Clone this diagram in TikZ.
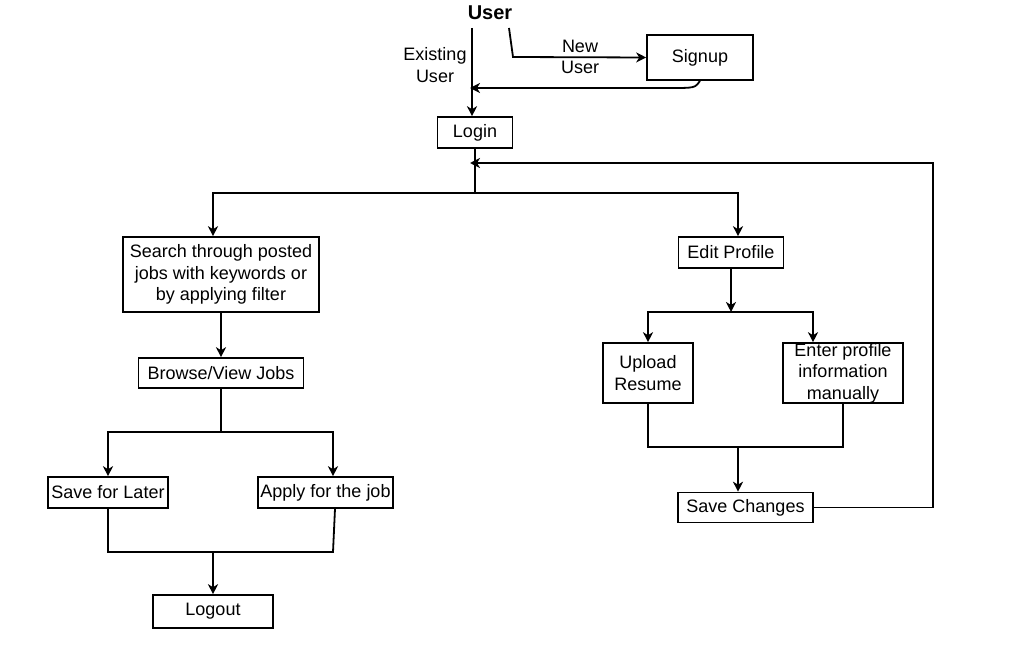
\documentclass[tikz,border=0pt]{standalone}
\usepackage{fontspec}
\setmainfont{Liberation Sans}
\usepackage{tikz}
\usetikzlibrary{arrows.meta}

\begin{document}
\begin{tikzpicture}
  [x=1pt,y=-1pt,line width=1.8pt,
   every node/.style={font=\fontsize{18}{21.6}\selectfont,align=center,inner sep=0pt},
   box/.style={draw,rectangle,line width=1.6pt},
   arr/.style={-{Stealth[length=10pt,width=10pt,inset=3pt]}}] % box is the layout of every framed step
    \useasboundingbox (0,0) rectangle (1022,655);

    \node (user) at (490,13) {\fontsize{20}{24}\selectfont\bfseries User};
    \node[box,minimum width=106,minimum height=45] (signup) at (700,57.5) {Signup};
    \node[box,minimum width=75,minimum height=31] (login) at (475,132.5) {Login};

    \node[box,minimum width=196,minimum height=75] (search) at (221,274.5) {Search through posted\\jobs with keywords or\\by applying filter};
    \node[box,minimum width=165,minimum height=30] (browse) at (221,373) {Browse/View Jobs};
    \node[box,minimum width=120,minimum height=31] (later) at (108,492.5) {Save for Later};
    \node[box,minimum width=135,minimum height=31] (apply) at (325.5,492.5) {Apply for the job};
    \node[box,minimum width=120,minimum height=33] (logout) at (213,611.5) {Logout};

    \node[box,minimum width=105,minimum height=31] (edit) at (731,252.5) {Edit Profile};
    \node[box,minimum width=90,minimum height=60] (upload) at (648,373) {Upload\\Resume};
    \node[box,minimum width=120,minimum height=60] (manual) at (843,373) {Enter profile\\information\\manually};
    \node[box,minimum width=135,minimum height=30] (savech) at (745.5,507.5) {Save Changes};

    \node (lexist) at (435,65) {Existing\\User};
    \node (lnew) at (580,57) {New\\User};

    \coordinate (u1) at (472,28);
    \coordinate (u2) at (509,28);
    \coordinate (b1) at (475,193);
    \coordinate (b2) at (221,432);
    \coordinate (b3) at (213,552);
    \coordinate (b4) at (731,312);
    \coordinate (b5) at (738,447);

    \draw [arr] (u1) -- (u1 |- login.north);
    \draw [arr] (u2) -- (513,57) -- (signup.west);
    \draw [arr] (signup.south) .. controls (695,88) .. (670,88) -- (470,88);

    \draw (login.south) -- (b1);
    \draw [arr] (b1) -| ([xshift=-8]search.north);
    \draw [arr] (b1) -| ([xshift=7]edit.north);

    \draw [arr] (search.south) -- (browse.north);
    \draw (browse.south) -- (b2);
    \draw [arr] (b2) -| (later.north);
    \draw [arr] (b2) -| ([xshift=7.5]apply.north);
    \draw (later.south) |- (b3);
    \draw ([xshift=9.5]apply.south) -- (333,552) -- (b3);
    \draw [arr] (b3) -- (logout.north);

    \draw [arr] (edit.south) -- (b4);
    \draw [arr] (b4) -| (upload.north);
    \draw [arr] (b4) -| ([xshift=-30]manual.north);
    \draw (upload.south) |- (b5);
    \draw (manual.south) |- (b5);
    \draw [arr] (b5) -- (b5 |- savech.north);

    \draw [arr] (savech.east) -| (933,163) -- (470,163);

\end{tikzpicture}
\end{document}
